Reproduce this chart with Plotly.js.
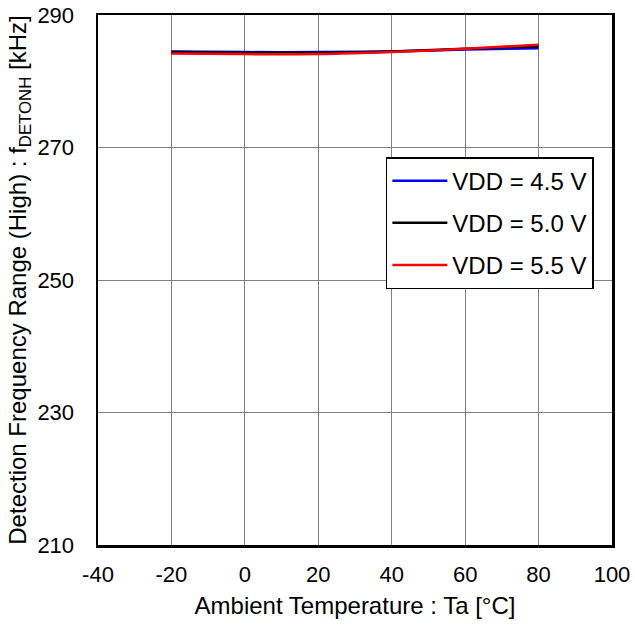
<!DOCTYPE html>
<html>
<head>
<meta charset="utf-8">
<script src="https://cdn.plot.ly/plotly-3.0.1.min.js"></script>
<style>html,body{margin:0;padding:0;background:#fff;}</style>
</head>
<body>
<div id="chart" style="width:635px;height:627px;"></div>
<script>
const temps = [-20, 0, 20, 40, 60, 80];
const vdd45 = [284.5, 284.4, 284.4, 284.5, 284.8, 285.0];
const vdd50 = [284.4, 284.3, 284.3, 284.5, 284.9, 285.3];
const vdd55 = [284.2, 284.1, 284.1, 284.4, 284.9, 285.5];
const seriesNames = ['VDD = 4.5 V', 'VDD = 5.0 V', 'VDD = 5.5 V'];
const xTicks = [-40, -20, 0, 20, 40, 60, 80, 100];
const yTicks = [210, 230, 250, 270, 290];

const colors = ['#0000ff', '#000000', '#ff0000'];
const data = [vdd45, vdd50, vdd55].map((ys, i) => ({
  x: temps, y: ys, type: 'scatter', mode: 'lines', name: seriesNames[i],
  line: {color: colors[i], width: 2.5, shape: 'spline'},
  legendgroup: 'g' + i
}));

const fam = 'Liberation Sans, Arial, sans-serif';
const tickFont = {family: fam, size: 22, color: '#000'};
const titleFont = {family: fam, size: 24, color: '#000'};
const layout = {
  width: 635, height: 627,
  margin: {l: 98, r: 23, t: 15, b: 82},
  paper_bgcolor: '#fff', plot_bgcolor: '#fff',
  font: titleFont,
  showlegend: true,
  legend: {
    x: 0.56, y: 0.732, xanchor: 'left', yanchor: 'top',
    bordercolor: '#000', borderwidth: 1.5, bgcolor: '#fff',
    font: titleFont, traceorder: 'grouped', tracegroupgap: 8,
    itemwidth: 55
  },
  xaxis: {
    range: [-40, 100], tickvals: xTicks, ticktext: xTicks.map(String),
    showgrid: true, gridcolor: '#808080', gridwidth: 1,
    zeroline: false, showline: true, linecolor: '#000', linewidth: 2.5, mirror: true,
    ticks: '', tickfont: tickFont, ticklabelstandoff: 8,
    title: {text: 'Ambient Temperature : Ta [°C]', font: titleFont, standoff: 12}
  },
  yaxis: {
    range: [210, 290], tickvals: yTicks, ticktext: yTicks.map(String),
    showgrid: true, gridcolor: '#808080', gridwidth: 1,
    zeroline: false, showline: true, linecolor: '#000', linewidth: 2.5, mirror: true,
    ticks: '', tickfont: tickFont, ticklabelstandoff: 17,
    title: {text: 'Detection Frequency Range (High) : f<sub>DETONH</sub> [kHz]', font: titleFont, standoff: 4}
  }
};
Plotly.newPlot('chart', data, layout, {displayModeBar: false, staticPlot: true});
</script>
</body>
</html>
